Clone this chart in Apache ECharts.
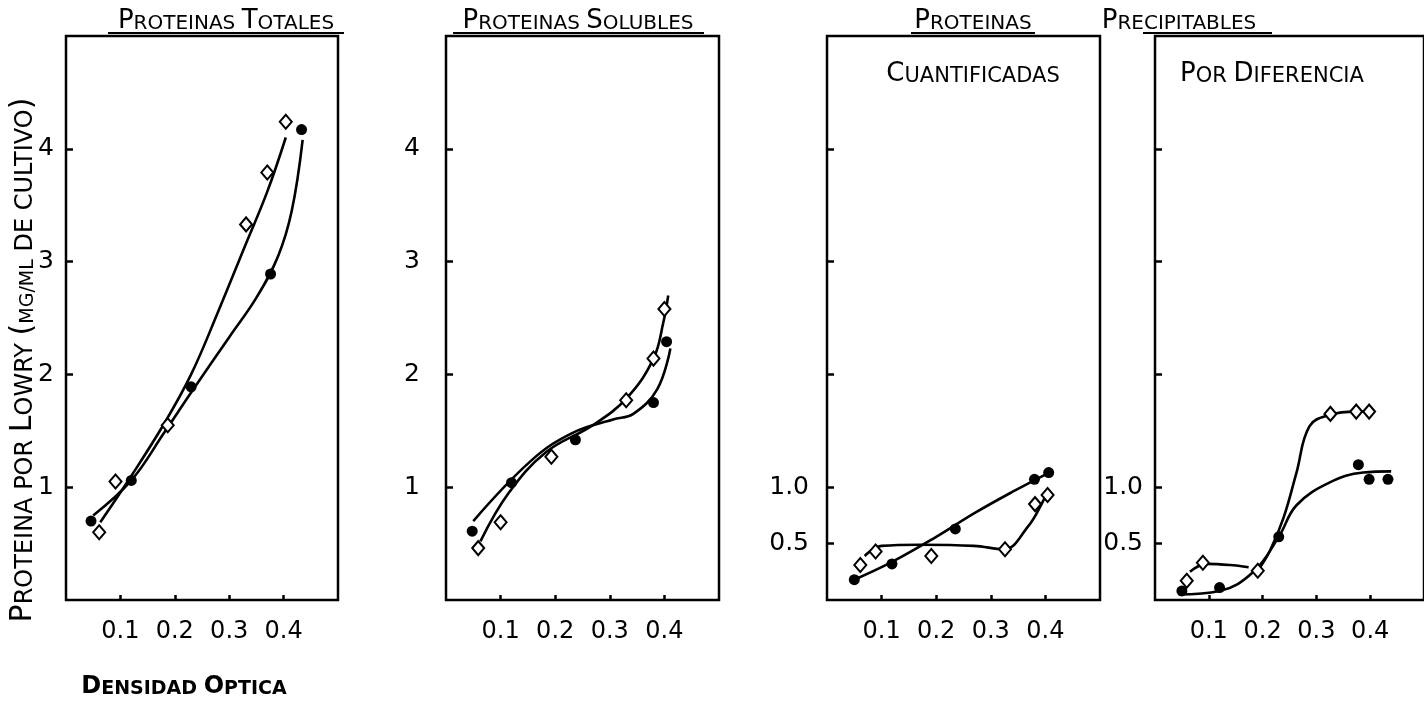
<!DOCTYPE html>
<html>
<head>
<meta charset="utf-8">
<script src="https://cdn.jsdelivr.net/npm/echarts@6/dist/echarts.min.js"></script>
<style>
html,body{margin:0;padding:0;background:#fff;}
#chart{width:1424px;height:703px;}
</style>
</head>
<body>
<div id="chart"></div>
<script>
// ---------- tick values / labels ----------
const xTickValues = [0.1, 0.2, 0.3, 0.4];
const yTickValuesTall = [1, 2, 3, 4];
const yTickValuesSmall = [0.5, 1, 2, 3, 4];
const yLabelValuesTall = [1, 2, 3, 4];
const yLabelValuesSmall = [0.5, 1];

// ---------- Panel 1: Proteinas Totales ----------
const totCircle = [[0.046,0.70],[0.12,1.06],[0.23,1.89],[0.376,2.89],[0.433,4.17]];
const totDiamond = [[0.061,0.60],[0.091,1.05],[0.187,1.55],[0.331,3.33],[0.37,3.79],[0.404,4.24]];
const totCircleFit = [[0.05,0.75],[0.12,1.06],[0.18,1.48],[0.23,1.84],[0.30,2.33],[0.35,2.68],[0.39,3.05],[0.415,3.45],[0.435,4.08]];
const totDiamondFit = [[0.063,0.69],[0.12,1.10],[0.18,1.56],[0.23,2.00],[0.28,2.56],[0.33,3.15],[0.37,3.62],[0.404,4.10]];

// ---------- Panel 2: Proteinas Solubles ----------
const solCircle = [[0.048,0.61],[0.12,1.04],[0.237,1.42],[0.38,1.75],[0.404,2.29]];
const solDiamond = [[0.059,0.46],[0.10,0.69],[0.193,1.27],[0.33,1.77],[0.38,2.14],[0.40,2.58]];
const solCircleFit = [[0.05,0.70],[0.157,1.24],[0.231,1.48],[0.306,1.60],[0.343,1.65],[0.387,1.87],[0.411,2.23]];
const solDiamondFit = [[0.063,0.52],[0.115,0.95],[0.183,1.31],[0.269,1.55],[0.331,1.79],[0.38,2.14],[0.398,2.46],[0.407,2.70]];

// ---------- Panel 3: Proteinas precipitables cuantificadas ----------
const cuaCircle = [[0.05,0.18],[0.119,0.32],[0.235,0.63],[0.38,1.07],[0.406,1.13]];
const cuaDiamond = [[0.061,0.31],[0.089,0.43],[0.191,0.39],[0.326,0.45],[0.381,0.85],[0.404,0.93]];
const cuaCircleFit = [[0.05,0.18],[0.12,0.34],[0.20,0.56],[0.27,0.77],[0.34,0.96],[0.407,1.13]];
const cuaDiamondFit = [[0.069,0.39],[0.10,0.48],[0.17,0.49],[0.269,0.48],[0.324,0.45],[0.368,0.65],[0.393,0.85],[0.402,0.95]];

// ---------- Panel 4: Proteinas precipitables por diferencia ----------
const difCircle = [[0.05,0.08],[0.12,0.11],[0.23,0.56],[0.378,1.20],[0.398,1.07],[0.433,1.07]];
const difDiamond = [[0.059,0.17],[0.089,0.33],[0.191,0.26],[0.326,1.65],[0.374,1.67],[0.398,1.67]];
const difCircleFit = [[0.044,0.05],[0.12,0.08],[0.183,0.25],[0.23,0.56],[0.263,0.84],[0.324,1.04],[0.387,1.13],[0.439,1.14]];
const difDiamondFitA = [[0.065,0.25],[0.096,0.32],[0.139,0.31],[0.174,0.29]];
const difDiamondFitB = [[0.191,0.26],[0.213,0.43],[0.239,0.73],[0.263,1.13],[0.287,1.54],[0.324,1.64],[0.374,1.67],[0.402,1.67]];

// ---------- layout ----------
const FONT = "'DejaVu Sans', sans-serif";
const grids = [
  {left:66, top:36, width:272, height:564},
  {left:446, top:36, width:273, height:564},
  {left:827, top:36, width:273, height:564},
  {left:1155, top:36, width:272, height:564}
];
const yLabelMargins = [12, 26, 18, 12];

const panels = [
  {circle: totCircle, diamond: totDiamond, fits: [totCircleFit, totDiamondFit], small:false},
  {circle: solCircle, diamond: solDiamond, fits: [solCircleFit, solDiamondFit], small:false},
  {circle: cuaCircle, diamond: cuaDiamond, fits: [cuaCircleFit, cuaDiamondFit], small:true},
  {circle: difCircle, diamond: difDiamond, fits: [difCircleFit, difDiamondFitA, difDiamondFitB], small:true}
];

const chart = echarts.init(document.getElementById('chart'), null, {renderer:'canvas'});

const xAxes = [], yAxes = [], series = [];
panels.forEach((p, i) => {
  xAxes.push({
    type:'value', gridIndex:i, min:0, max:0.5,
    axisLine:{show:false}, splitLine:{show:false},
    axisTick:{show:true, inside:true, length:5, customValues:xTickValues, lineStyle:{color:'#000', width:2.5}},
    axisLabel:{customValues:xTickValues, margin:20, color:'#000', fontSize:24, fontFamily:FONT,
      formatter: v => v.toFixed(1)}
  });
  yAxes.push({
    type:'value', gridIndex:i, min:0, max:5,
    axisLine:{show:false}, splitLine:{show:false},
    axisTick:{show:true, inside:true, length:7,
      customValues: p.small ? yTickValuesSmall : yTickValuesTall,
      lineStyle:{color:'#000', width:2.5}},
    axisLabel:{customValues: p.small ? yLabelValuesSmall : yLabelValuesTall,
      margin:yLabelMargins[i], color:'#000', fontSize:25, fontFamily:FONT,
      formatter: v => p.small ? v.toFixed(1) : String(v)}
  });
  p.fits.forEach(f => series.push({
    type:'line', xAxisIndex:i, yAxisIndex:i, data:f, smooth:0.4,
    symbol:'none', lineStyle:{color:'#000', width:2.6}, z:2, silent:true
  }));
  series.push({
    type:'scatter', xAxisIndex:i, yAxisIndex:i, data:p.circle,
    symbol:'circle', symbolSize:11, itemStyle:{color:'#000', opacity:1}, z:4
  });
  series.push({
    type:'scatter', xAxisIndex:i, yAxisIndex:i, data:p.diamond,
    symbol:'diamond', symbolSize:[12,14],
    itemStyle:{color:'#fff', borderColor:'#000', borderWidth:2, opacity:1}, z:5
  });
});

// small-caps helper using rich text
function smallCaps(words) {
  return words.map(w => '{B|' + w[0] + '}{S|' + w.slice(1) + '}').join('{S| }');
}
function scText(x, y, words, B, S, opts) {
  opts = opts || {};
  return {
    type:'text', x:x, y:y, rotation: opts.rotation || 0, z:10,
    style:{
      text: smallCaps(words),
      align:'center', verticalAlign:'middle',
      rich:{
        B:{fontSize:B, fontFamily:FONT, fill:'#000', color:'#000', fontWeight:opts.bold?'bold':'normal', verticalAlign:'bottom'},
        S:{fontSize:S, fontFamily:FONT, fill:'#000', color:'#000', fontWeight:opts.bold?'bold':'normal', verticalAlign:'bottom'}
      }
    }
  };
}
function uline(x1, x2, y) {
  return {type:'line', shape:{x1:x1, y1:y, x2:x2, y2:y}, style:{stroke:'#000', lineWidth:2}, z:10};
}

const yTitle = {
  type:'text', x:23, y:360, rotation:Math.PI/2, z:10,
  style:{
    text:'{B|P}{S|ROTEINA POR }{B|L}{S|OWRY }{B|(}{M|MG/ML}{S| DE CULTIVO}{B|)}',
    align:'center', verticalAlign:'middle',
    rich:{
      B:{fontSize:30, fontFamily:FONT, fill:'#000', color:'#000', verticalAlign:'bottom'},
      S:{fontSize:24, fontFamily:FONT, fill:'#000', color:'#000', verticalAlign:'bottom'},
      M:{fontSize:19, fontFamily:FONT, fill:'#000', color:'#000', verticalAlign:'bottom'}
    }
  }
};

const graphics = [
  scText(226, 21, ['PROTEINAS','TOTALES'], 26, 20),
  uline(108, 344, 33),
  scText(578, 21, ['PROTEINAS','SOLUBLES'], 26, 20),
  uline(453, 704, 33),
  scText(973, 21, ['PROTEINAS'], 26, 20),
  uline(911, 1035, 33),
  scText(1179, 21, ['PRECIPITABLES'], 26, 20),
  uline(1143, 1272, 33),
  scText(973, 74, ['CUANTIFICADAS'], 26, 21),
  scText(1272, 74, ['POR','DIFERENCIA'], 26, 21),
  scText(184, 687, ['DENSIDAD','OPTICA'], 24, 19, {bold:true}),
  yTitle
];

chart.setOption({
  animation:false,
  backgroundColor:'#fff',
  grid: grids.map(g => Object.assign({show:true, borderColor:'#000', borderWidth:2.5, backgroundColor:'transparent', containLabel:false}, g)),
  xAxis: xAxes,
  yAxis: yAxes,
  series: series,
  graphic: graphics
});
</script>
</body>
</html>
